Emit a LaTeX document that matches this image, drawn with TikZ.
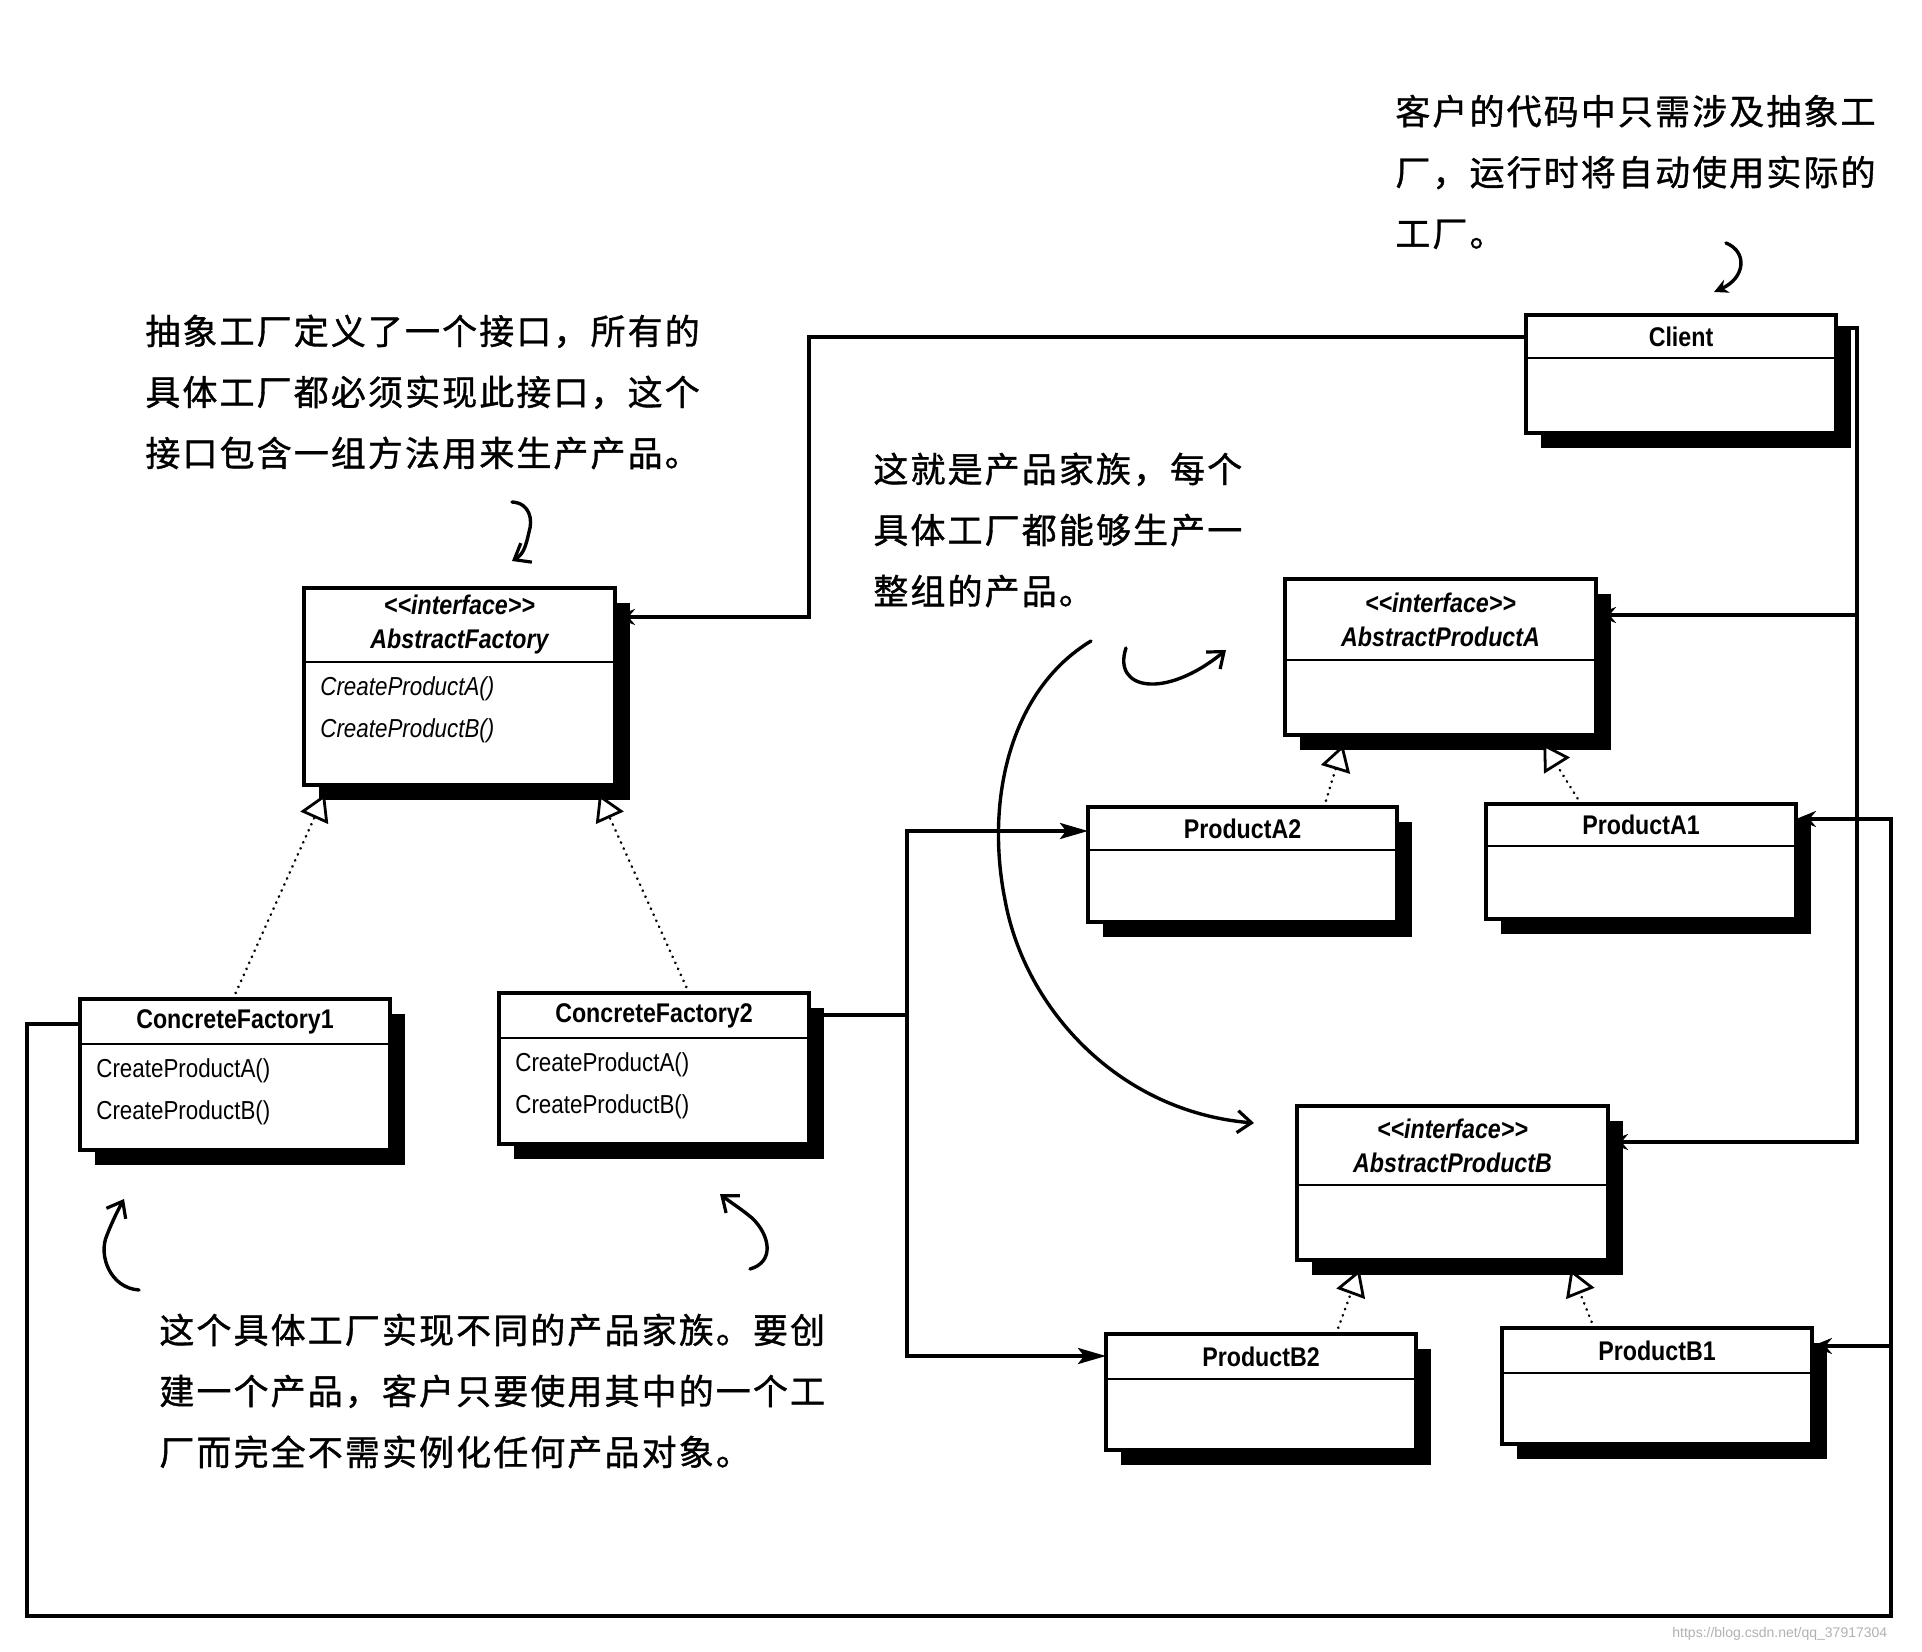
\documentclass[tikz,border=0pt]{standalone}
\usepackage{fontspec}
\usetikzlibrary{arrows.meta,calc}
\newfontfamily\umlfont{Liberation Sans}[FakeStretch=0.86]
\newfontfamily\cjk{Noto Sans CJK SC}[LetterSpace=6,FakeBold=1]
\pgfdeclarelayer{bg}
\pgfdeclarelayer{paper}
\pgfsetlayers{paper,bg,main}
\tikzset{
  box/.style={draw=black, fill=white, line width=1.6pt, inner sep=0pt, outer sep=0pt},
  divline/.style={line width=1.3pt},
  hdr/.style={align=center, inner sep=0pt, font=\umlfont\bfseries\fontsize{13.5}{17}\selectfont},
  body/.style={anchor=north west, align=left, inner sep=0pt, font=\umlfont\fontsize{13}{21}\selectfont},
  conn/.style={line width=1.8pt},
  arr/.style={conn, -{Stealth[length=10pt,width=8pt]}},
  arrbig/.style={conn, -{Stealth[length=14pt,width=8pt,inset=3pt]}},
  real/.style={line width=1.4pt, line cap=round, dash pattern=on 0.1pt off 3.2pt, shorten >=5pt,
    -{Triangle[open, fill=white, length=13pt, width=15pt, line width=1.4pt]}},
  hand/.style={line width=1.7pt, line cap=round, line join=round},
  handarr/.style={hand, -{Straight Barb[length=7pt,width=11pt,line width=1.6pt]}},
  note/.style={align=left, inner sep=0pt, anchor=west, font=\cjk\fontsize{17.5}{30.5}\selectfont},
}
% name, left, top, right, bottom, divider, header, body
\newcommand\umlbox[8]{%
  \fill[black] (#2+15,#3+15) rectangle (#4+15,#5+15);
  \node[box, minimum width={(#4-#2)*0.5pt}, minimum height={(#5-#3)*0.5pt}] (#1) at ({(#2+#4)/2},{(#3+#5)/2}) {};
  \draw[divline] (#2,#6) -- (#4,#6);
  \node[hdr] (#1-h) at ({(#2+#4)/2},{(#3+#6)/2}) {#7};
  \node[body] (#1-b) at (#2+16,#6+14) {#8};
}
\begin{document}
\begin{tikzpicture}[x=0.5pt, y=-0.5pt]
\begin{pgfonlayer}{paper}
\fill[white] (0,0) rectangle (1922,1652);
\end{pgfonlayer}
\useasboundingbox (0,0) rectangle (1922,1652);

% ---------- classes ----------
\umlbox{client}{1526}{315}{1836}{433}{358}{Client}{}
\umlbox{af}{304}{588}{615}{785}{662}{\itshape <{}<interface>{}>\\\itshape AbstractFactory}{\itshape CreateProductA()\\\itshape CreateProductB()}
\umlbox{apa}{1285}{579}{1596}{735}{660}{\itshape <{}<interface>{}>\\\itshape AbstractProductA}{}
\umlbox{pa2}{1088}{807}{1397}{922}{850}{ProductA2}{}
\umlbox{pa1}{1486}{804}{1796}{919}{846}{ProductA1}{}
\umlbox{cf1}{80}{999}{390}{1150}{1044}{ConcreteFactory1}{CreateProductA()\\CreateProductB()}
\umlbox{cf2}{499}{993}{809}{1144}{1038}{ConcreteFactory2}{CreateProductA()\\CreateProductB()}
\umlbox{apb}{1297}{1106}{1608}{1260}{1185}{\itshape <{}<interface>{}>\\\itshape AbstractProductB}{}
\umlbox{pb2}{1106}{1334}{1416}{1450}{1379}{ProductB2}{}
\umlbox{pb1}{1502}{1328}{1812}{1444}{1373}{ProductB1}{}

% ---------- bend points ----------
\coordinate (c1) at (809,617);
\coordinate (r1t) at (1857,328);
\coordinate (r1a) at (1857,615);
\coordinate (r1b) at (1857,1142);
\coordinate (r2a) at (1891,819);
\coordinate (r2b) at (1891,1346);
\coordinate (r2c) at (1891,1616);
\coordinate (l1c) at (27,1616);
\coordinate (l1t) at (27,1024);
\coordinate (m1) at (907,1015);
\coordinate (m1a) at (907,831);
\coordinate (m1b) at (907,1356);

% ---------- associations ----------
\begin{pgfonlayer}{bg}
\draw[arr] ($(client.north west)+(0,22)$) -| (c1) -- (af.east |- c1);
\draw[arr] (client.east |- r1t) -- (r1t) -- (r1b) -- (apb.east |- r1b);
\draw[arr] (r1a) -- (apa.east |- r1a);
\draw[arr] (cf1.west |- l1t) -- (l1t) -- (l1c) -- (r2c) -- (r2a) -- (pa1.east |- r2a);
\draw[arr] (r2b) -- (pb1.east |- r2b);
\draw[arrbig] (cf2.east |- m1) -| (m1a) -- (pa2.west |- m1a);
\draw[arrbig] (m1) -- (m1b) -- (pb2.west |- m1b);
\end{pgfonlayer}

% ---------- realizations ----------
\draw[real] ($(cf1.north west)+(153,0)$) -- ($(af.south west)+(25,0)$);
\draw[real] ($(cf2.north west)+(190,0)$) -- ($(af.south west)+(291,0)$);
\draw[real] ($(pa2.north west)+(236,0)$) -- ($(apa.south west)+(61,0)$);
\draw[real] ($(pa1.north west)+(95,0)$) -- ($(apa.south west)+(253,0)$);
\draw[real] ($(pb2.north west)+(230,0)$) -- ($(apb.south west)+(66,0)$);
\draw[real] ($(pb1.north west)+(92,0)$) -- ($(apb.south west)+(270,0)$);

% ---------- notes ----------
\node[note] (n1) at (1395,172) {客户的代码中只需涉及抽象工\\厂，运行时将自动使用实际的\\工厂。};
\node[note] (n2) at (145,392) {抽象工厂定义了一个接口，所有的\\具体工厂都必须实现此接口，这个\\接口包含一组方法用来生产产品。};
\node[note] (n3) at (873,530) {这就是产品家族，每个\\具体工厂都能够生产一\\整组的产品。};
\node[note] (n4) at (159,1391) {这个具体工厂实现不同的产品家族。要创\\建一个产品，客户只要使用其中的一个工\\厂而完全不需实例化任何产品对象。};

% ---------- hand-drawn arrows ----------
\coordinate (h1s) at (512,502);
\coordinate (h1e) at (512,561);
\draw[handarr] (h1s) .. controls (530,503) and (533,520) .. (529,532) .. controls (526,545) and (524,554) .. (h1e);
\coordinate (h2s) at (1726,243);
\coordinate (h2e) at (1714,292);
\draw[hand, -{Stealth[length=7pt,width=7pt]}] (h2s) .. controls (1748,252) and (1745,278) .. (h2e);
\coordinate (h3s) at (1126,648);
\coordinate (h3e) at (1226,650);
\draw[handarr] (h3s) .. controls (1112,690) and (1165,700) .. (h3e);
\coordinate (h4s) at (1091,641);
\coordinate (h4e) at (1254,1123);
\draw[handarr] (h4s) .. controls (1010,690) and (985,800) .. (1005,900) .. controls (1025,1010) and (1120,1112) .. (h4e);
\coordinate (h5s) at (139,1290);
\coordinate (h5e) at (124,1199);
\draw[handarr] (h5s) .. controls (110,1288) and (98,1255) .. (107,1235) .. controls (112,1222) and (118,1210) .. (h5e);
\coordinate (h6s) at (750,1269);
\coordinate (h6e) at (720,1194);
\draw[handarr] (h6s) .. controls (775,1262) and (770,1235) .. (752,1218) .. controls (740,1208) and (730,1202) .. (h6e);

% ---------- watermark ----------
\node[anchor=west, inner sep=0pt, text=black!30, font=\fontspec{Liberation Sans}\fontsize{7}{8}\selectfont] (wm) at (1672,1634) {https://blog.csdn.net/qq\_37917304};
\end{tikzpicture}
\end{document}
